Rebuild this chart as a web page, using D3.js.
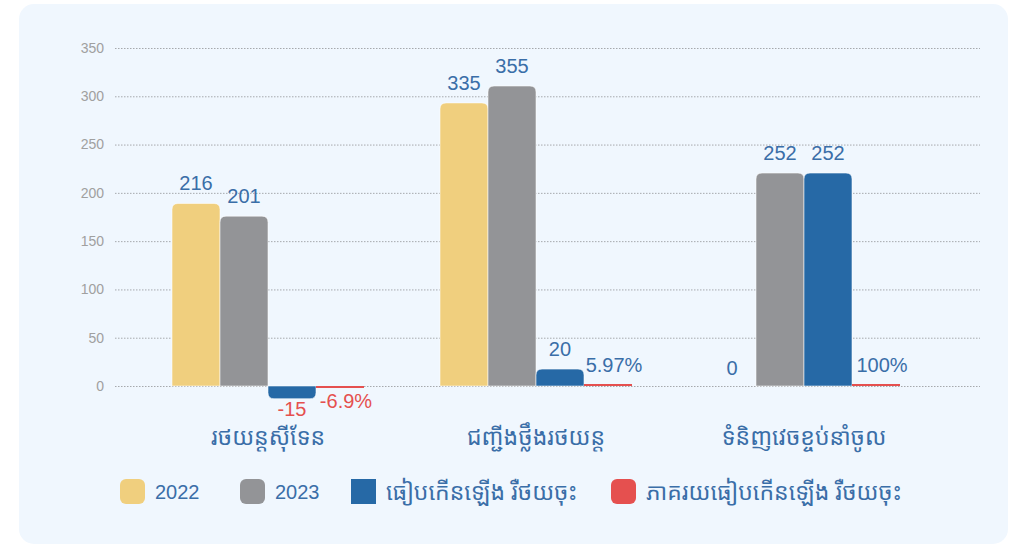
<!DOCTYPE html>
<html>
<head>
<meta charset="utf-8">
<script src="https://cdn.jsdelivr.net/npm/d3@7"></script>
<style>
  html, body { margin: 0; padding: 0; background: #fff; }
  body { width: 1020px; height: 545px; overflow: hidden; }
  svg { display: block; font-family: "Noto Sans Khmer", "Khmer OS", "Noto Sans", "DejaVu Sans", sans-serif; }
</style>
</head>
<body>
<svg id="chart" width="1020" height="545"></svg>
<script>
// ---- data ---------------------------------------------------------------
const categories = ['រថយន្តស៊ីទែន', 'ជញ្ជីងថ្លឹងរថយន្ត', 'ទំនិញវេចខ្ចប់នាំចូល'];
const values2022 = [216, 335, 0];
const values2023 = [201, 355, 252];
const valuesDiff = [-15, 20, 252];
const valuesPct = [-0.069, 0.0597, 1];          // shown as -6.9%, 5.97%, 100%
const pctLabels = ['-6.9%', '5.97%', '100%'];
const yTickLabels = [0, 50, 100, 150, 200, 250, 300, 350];

const seriesNames = ['2022', '2023', 'ធៀបកើនឡើង រឺថយចុះ', 'ភាគរយធៀបកើនឡើង រឺថយចុះ'];
const seriesColors = ['#f0cf7e', '#939497', '#2669a6', '#e5504f'];

const textBlue = '#3a6ea8';
const textRed = '#e5504f';
const numFont = '"Liberation Sans", Arial, sans-serif';

const svg = d3.select('#chart');

// card background
svg.append('rect')
  .attr('x', 19).attr('y', 4)
  .attr('width', 989).attr('height', 540)
  .attr('rx', 15)
  .attr('fill', '#f0f7fe');

// ---- scales -------------------------------------------------------------
const plot = { left: 115, right: 980, zero: 386, top: 48 };

// gridline scale (labels 0..350)
const yAxisScale = d3.scaleLinear().domain([0, 350]).range([plot.zero, plot.top]);
// bars are drawn against a 0..400 domain on the same pixel span
const yBar = d3.scaleLinear().domain([0, 400]).range([plot.zero, plot.top]);

const x0 = d3.scaleBand().domain(categories).range([134, 938])
  .paddingInner(0.2836).paddingOuter(0.1418);
const x1 = d3.scaleBand().domain(d3.range(4)).range([0, x0.bandwidth()]);

// ---- grid + y labels ----------------------------------------------------
const grid = svg.append('g');
grid.selectAll('line').data(yTickLabels).join('line')
  .attr('x1', plot.left).attr('x2', plot.right)
  .attr('y1', d => yAxisScale(d) + 0.5).attr('y2', d => yAxisScale(d) + 0.5)
  .attr('stroke', '#a6a9ad').attr('stroke-width', 1)
  .attr('stroke-dasharray', '1.5,1.5');

grid.selectAll('text').data(yTickLabels).join('text')
  .attr('x', 104).attr('y', d => yAxisScale(d))
  .attr('dy', '0.35em')
  .attr('text-anchor', 'end')
  .attr('font-size', 14)
  .attr('fill', '#a0a0a0')
  .attr('font-family', numFont)
  .text(d => d);

// ---- bars -----------------------------------------------------------------
function barPath(x, w, y0, y1, r) {
  // rounded on the end away from zero
  const h = Math.abs(y1 - y0);
  r = Math.min(r, h, w / 2);
  if (y1 <= y0) {
    return `M${x},${y0}V${y1 + r}Q${x},${y1} ${x + r},${y1}H${x + w - r}Q${x + w},${y1} ${x + w},${y1 + r}V${y0}Z`;
  }
  return `M${x},${y0}V${y1 - r}Q${x},${y1} ${x + r},${y1}H${x + w - r}Q${x + w},${y1} ${x + w},${y1 - r}V${y0}Z`;
}

const rows = categories.map((c, i) => ({
  cat: c,
  items: [
    { s: 0, v: values2022[i], label: String(values2022[i]) },
    { s: 1, v: values2023[i], label: String(values2023[i]) },
    { s: 2, v: valuesDiff[i], label: String(valuesDiff[i]) },
    { s: 3, v: valuesPct[i], label: pctLabels[i] }
  ]
}));

const groups = svg.append('g').selectAll('g').data(rows).join('g')
  .attr('transform', d => `translate(${x0(d.cat)},0)`);

groups.selectAll('path').data(d => d.items.filter(it => it.v !== 0)).join('path')
  .attr('d', it => {
    const xx = x1(it.s), w = x1.bandwidth();
    let y1 = yBar(it.v);
    const y0 = yBar(0);
    if (it.s === 3) {
      // percentage series: its bar is nearly flat, keep a visible sliver
      y1 = y0 + (it.v < 0 ? 2 : -2);
      return barPath(xx, w, y0, y1, 0);
    }
    return barPath(xx, w, y0, y1, 6);
  })
  .attr('fill', it => seriesColors[it.s])
  .attr('stroke', it => it.s === 3 ? 'none' : '#ffffff')
  .attr('stroke-opacity', 0.55)
  .attr('stroke-width', 1);

groups.selectAll('text').data(d => d.items).join('text')
  .attr('x', it => x1(it.s) + x1.bandwidth() / 2 + (it.s === 3 ? 6 : 0))
  .attr('y', it => {
    const y0 = yBar(0);
    if (it.s === 3) return it.v < 0 ? y0 + 22 : y0 - 14;
    if (it.v < 0) return yBar(it.v) + 17;
    if (it.v === 0) return y0 - 11;
    return yBar(it.v) - 13;
  })
  .attr('text-anchor', 'middle')
  .attr('font-size', 20)
  .attr('font-family', numFont)
  .attr('fill', it => it.v < 0 ? textRed : textBlue)
  .text(it => it.label);

// ---- category labels ------------------------------------------------------
svg.append('g').selectAll('text').data(categories).join('text')
  .attr('x', d => x0(d) + x0.bandwidth() / 2)
  .attr('y', 445)
  .attr('text-anchor', 'middle')
  .attr('font-size', 23)
  .attr('fill', textBlue)
  .text(d => d);

// ---- legend ---------------------------------------------------------------
const legendX = [120, 240, 351, 611];
const legend = svg.append('g').selectAll('g').data(seriesNames).join('g')
  .attr('transform', (d, i) => `translate(${legendX[i]},479)`);

legend.append('rect')
  .attr('width', 25).attr('height', 25)
  .attr('rx', (d, i) => i === 2 ? 0 : 6)
  .attr('fill', (d, i) => seriesColors[i]);

legend.append('text')
  .attr('x', 35).attr('y', 12.5).attr('dy', '0.35em')
  .attr('font-size', (d, i) => i < 2 ? 20 : 23)
  .attr('fill', textBlue)
  .attr('font-family', (d, i) => i < 2 ? numFont : null)
  .text(d => d);
</script>
</body>
</html>
